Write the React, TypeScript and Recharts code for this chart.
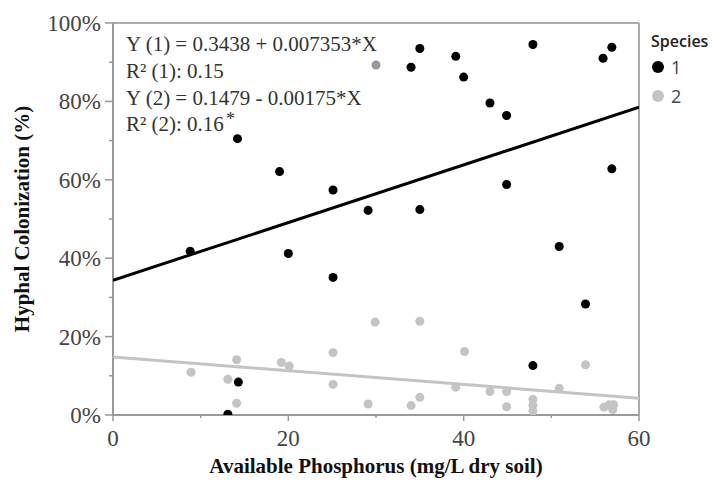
import React from 'react';
import { ScatterChart, Scatter, XAxis, YAxis, ZAxis, ReferenceLine } from 'recharts';

// Species 1 (black): [phosphorus mg/L, colonization %]
const species1X = [8.8, 14.2, 14.3, 13.1, 19.0, 20.0, 25.1, 25.1, 29.1, 34.0, 35.0, 35.0, 39.1, 40.0, 43.0, 44.9, 44.9, 47.9, 47.9, 50.9, 53.9, 55.9, 56.9, 56.9];
const species1Y = [41.8, 70.5, 8.4, 0.2, 62.1, 41.2, 57.4, 35.1, 52.2, 88.7, 93.5, 52.4, 91.5, 86.2, 79.6, 76.4, 58.8, 94.5, 12.6, 43.0, 28.3, 91.0, 93.8, 62.8];

// Species 2 (grey)
const species2X = [8.9, 13.1, 14.1, 14.1, 19.2, 20.1, 25.1, 25.1, 29.1, 29.9, 34.0, 35.0, 35.0, 39.1, 40.1, 43.0, 44.9, 44.9, 47.9, 47.9, 47.9, 50.9, 53.9, 56.0, 56.6, 57.0, 57.1];
const species2Y = [10.9, 9.1, 14.1, 3.0, 13.4, 12.5, 15.9, 7.8, 2.8, 23.7, 2.4, 4.5, 23.9, 7.1, 16.2, 6.0, 6.0, 2.1, 4.0, 2.5, 1.0, 6.8, 12.8, 2.0, 2.6, 1.4, 2.6];
// one darker grey point
const species2DarkX = [30.0];
const species2DarkY = [89.3];

// Fit line endpoints (from printed equations)
const fit1X = [0, 60];
const fit1Y = [34.38, 78.5];
const fit2X = [0, 60];
const fit2Y = [14.79, 4.29];

const xTicks = [0, 10, 20, 30, 40, 50, 60];
const yTicks = [0, 10, 20, 30, 40, 50, 60, 70, 80, 90, 100];

const legendTitle = 'Species';
const legendLabels = ['1', '2'];

const equationLines = [
  'Y (1) = 0.3438 + 0.007353*X',
  'R\u00B2 (1): 0.15',
  'Y (2) = 0.1479 - 0.00175*X',
  'R\u00B2 (2): 0.16',
];

const zip = (xs: number[], ys: number[]) => xs.map((x, i) => ({ x, y: ys[i] }));

const s1 = zip(species1X, species1Y);
const s2 = zip(species2X, species2Y);
const s2d = zip(species2DarkX, species2DarkY);
const f1 = zip(fit1X, fit1Y);
const f2 = zip(fit2X, fit2Y);

const SERIF = '"Liberation Serif", "Times New Roman", serif';
const SANS = '"Open Sans", "Noto Sans", sans-serif';
const C1 = '#000';
const C2 = '#c4c4c4';

const XTick = (props: any) => {
  const { x, y, payload } = props;
  const major = payload.value % 20 === 0;
  return (
    <g>
      <line x1={x} x2={x} y1={y} y2={y + (major ? 6 : 3)} stroke="#999" strokeWidth={1.5} />
      {major && (
        <text x={x} y={y + 31} textAnchor="middle" fontFamily={SERIF} fontSize={23} fill="#444">
          {payload.value}
        </text>
      )}
    </g>
  );
};

const YTick = (props: any) => {
  const { x, y, payload } = props;
  const major = payload.value % 20 === 0;
  return (
    <g>
      <line x1={x - (major ? 8 : 4)} x2={x} y1={y} y2={y} stroke="#999" strokeWidth={1.5} />
      {major && (
        <text x={x - 12} y={y} dy="0.35em" textAnchor="end" fontFamily={SERIF} fontSize={23} fill="#444">
          {payload.value + '%'}
        </text>
      )}
    </g>
  );
};

const NoShape = () => <g />;

export default function App() {
  const lineTops = [44, 71, 98, 124];
  return (
    <div style={{ position: 'absolute', left: 0, top: 0, width: 717, height: 487, background: '#fff' }}>
      <ScatterChart width={717} height={487} margin={{ top: 23, right: 78, bottom: 42, left: 53 }}>
        <XAxis
          type="number"
          dataKey="x"
          domain={[0, 60]}
          ticks={xTicks}
          interval={0}
          allowDataOverflow
          tickLine={false}
          tickSize={0}
          tickMargin={0}
          height={30}
          axisLine={{ stroke: '#999', strokeWidth: 2 }}
          tick={<XTick />}
        />
        <YAxis
          type="number"
          dataKey="y"
          domain={[0, 100]}
          ticks={yTicks}
          interval={0}
          allowDataOverflow
          tickLine={false}
          tickSize={0}
          tickMargin={0}
          width={60}
          axisLine={{ stroke: '#999', strokeWidth: 2 }}
          tick={<YTick />}
        />
        <ZAxis range={[110, 110]} />
        <ReferenceLine y={100} stroke="#aaa" strokeWidth={2} />
        <ReferenceLine x={60} stroke="#aaa" strokeWidth={2} />
        <Scatter name="2" data={s2} fill={C2} isAnimationActive={false} />
        <Scatter name="2b" data={s2d} fill="#9a9a9a" isAnimationActive={false} legendType="none" />
        <Scatter name="1" data={s1} fill={C1} isAnimationActive={false} />
        <Scatter
          name="fit2"
          data={f2}
          line={{ stroke: C2, strokeWidth: 3 }}
          shape={<NoShape />}
          isAnimationActive={false}
          legendType="none"
        />
        <Scatter
          name="fit1"
          data={f1}
          line={{ stroke: C1, strokeWidth: 3 }}
          shape={<NoShape />}
          isAnimationActive={false}
          legendType="none"
        />
      </ScatterChart>
      {equationLines.map((t, i) => (
        <div
          key={i}
          style={{
            position: 'absolute',
            left: 126,
            top: lineTops[i] - 12,
            fontFamily: SERIF,
            fontSize: 21,
            lineHeight: '24px',
            color: '#333',
            whiteSpace: 'nowrap',
          }}
        >
          {t}
          {i === 3 && (
            <span style={{ position: 'relative', top: -6, marginLeft: 2, fontSize: 18 }}>*</span>
          )}
        </div>
      ))}
      <div style={{ position: 'absolute', left: 651, top: 30, fontFamily: SANS, color: '#444' }}>
        <div style={{ fontWeight: 600, fontSize: 16, color: '#222', lineHeight: '22px' }}>{legendTitle}</div>
        {legendLabels.map((l, i) => (
          <div key={l} style={{ display: 'flex', alignItems: 'center', height: 29 }}>
            <svg width={14} height={14}>
              <circle cx={7} cy={7} r={6} fill={i === 0 ? C1 : C2} />
            </svg>
            <span style={{ marginLeft: 6, fontSize: 18 }}>{l}</span>
          </div>
        ))}
      </div>
      <div
        style={{
          position: 'absolute',
          left: 0,
          top: 466 - 13,
          width: 752,
          textAlign: 'center',
          fontFamily: SERIF,
          fontWeight: 'bold',
          fontSize: 21,
          lineHeight: '26px',
          color: '#111',
          whiteSpace: 'nowrap',
        }}
      >
        Available Phosphorus (mg/L dry soil)
      </div>
      <div
        style={{
          position: 'absolute',
          left: 22 - 150,
          top: 219 - 13,
          width: 300,
          height: 26,
          textAlign: 'center',
          transform: 'rotate(-90deg)',
          fontFamily: SERIF,
          fontWeight: 'bold',
          fontSize: 21,
          lineHeight: '26px',
          color: '#111',
          whiteSpace: 'nowrap',
        }}
      >
        Hyphal Colonization (%)
      </div>
    </div>
  );
}
